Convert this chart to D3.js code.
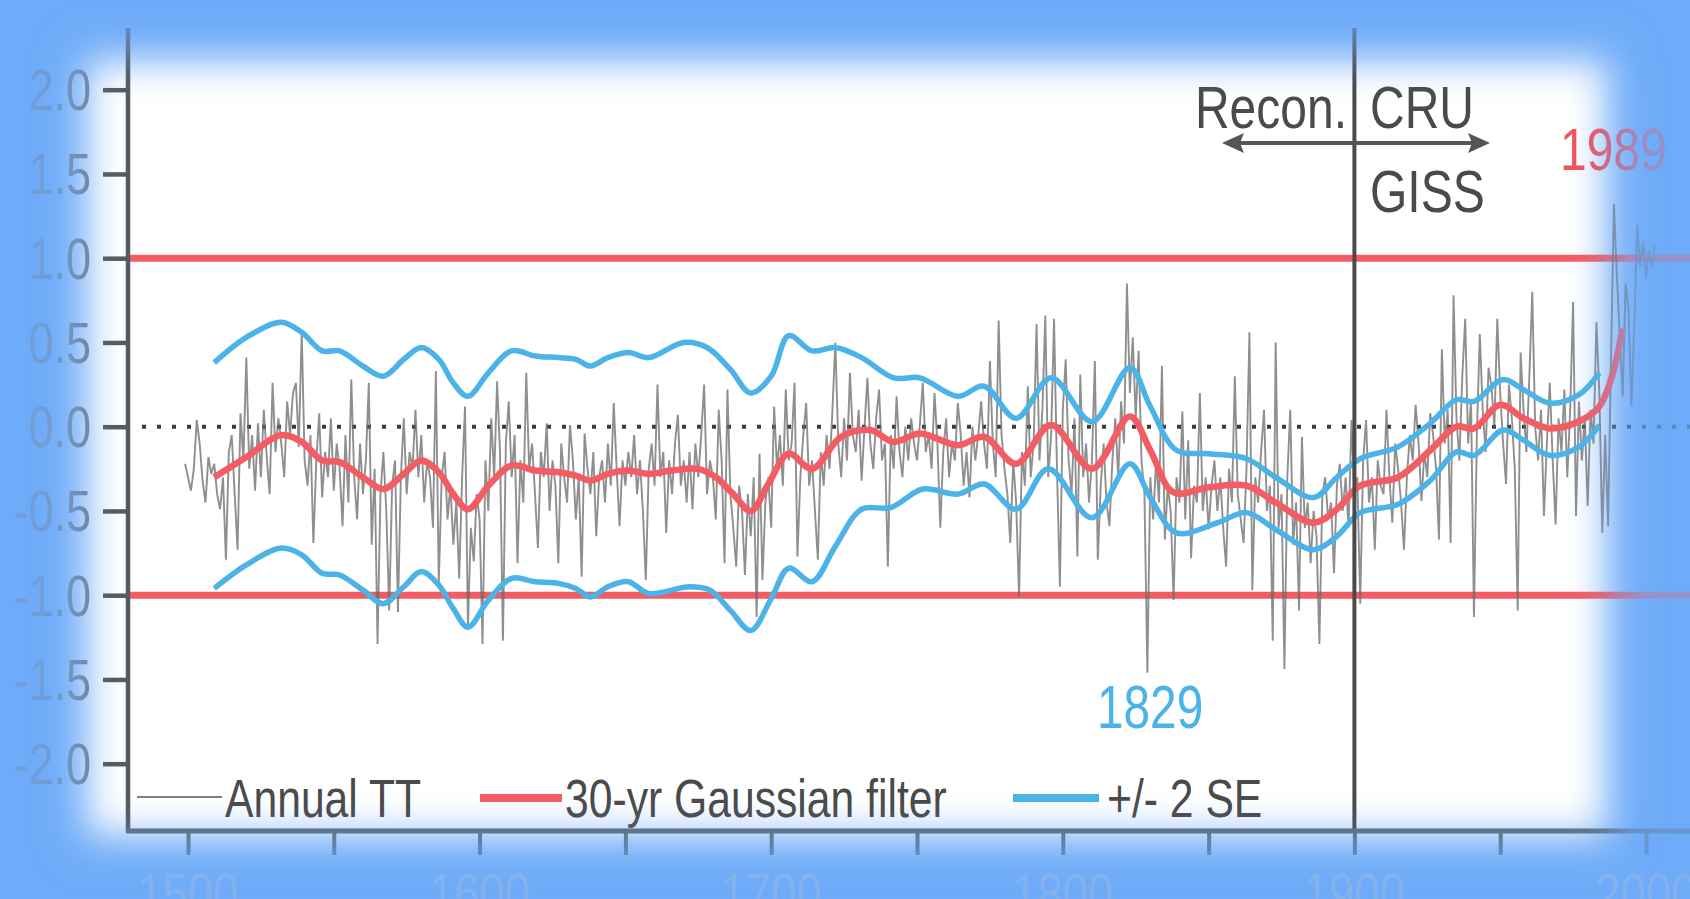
<!DOCTYPE html>
<html><head><meta charset="utf-8">
<script src="https://cdn.jsdelivr.net/npm/d3@7"></script>
<style>html,body{margin:0;padding:0;background:#6eabf8;overflow:hidden}svg{display:block}</style>
</head><body>
<svg id="c" width="1690" height="899"></svg>
<script>
// ---------- data ----------
const annualStart = 1499;
const annualTT = [
-0.22,-0.30,-0.38,-0.25,0.04,-0.10,-0.32,-0.45,-0.18,-0.28,-0.22,
-0.40,-0.49,-0.30,-0.79,-0.15,-0.05,-0.40,-0.73,0.08,-0.20,
0.41,-0.25,-0.05,-0.38,0.02,-0.30,0.10,-0.18,-0.40,0.26,
-0.15,0.05,-0.10,-0.30,0.15,-0.05,0.20,0.26,-0.12,0.57,
-0.20,-0.35,-0.05,-0.69,-0.20,0.08,-0.42,-0.15,-0.30,0.05,
-0.38,-0.10,-0.25,-0.59,-0.05,-0.45,0.28,-0.30,-0.55,-0.10,
-0.40,-0.20,0.26,-0.70,-0.25,-1.29,-0.40,-0.15,-0.50,-1.09,
-0.35,-0.20,-1.10,-0.30,0.05,-0.40,-0.15,-0.25,0.10,-0.30,
-0.05,-0.45,-0.20,-0.30,-0.60,0.33,-0.93,-0.30,-0.15,-0.55,
-0.35,-0.70,-0.45,-0.90,-0.30,0.12,-1.19,-0.60,-0.80,-0.40,
-0.55,-1.29,-0.20,-0.50,0.05,-0.30,0.27,-0.15,-1.27,-0.10,
0.15,-0.30,-0.05,-0.81,-0.20,-0.45,0.32,-0.25,-0.10,-0.40,
-0.72,-0.15,-0.30,0.02,-0.50,-0.20,-0.35,-0.81,-0.10,-0.30,
-0.45,0.01,-0.20,-0.55,-0.30,-0.89,-0.04,-0.25,-0.40,-0.15,
-0.65,-0.30,-0.20,-0.45,-0.10,-0.35,0.14,-0.25,-0.59,-0.20,
-0.35,-0.15,-0.30,-0.05,-0.40,-0.20,-0.50,-0.91,-0.25,-0.10,
-0.35,0.25,-0.30,-0.15,-0.63,-0.20,-0.40,-0.10,0.07,-0.35,
-0.20,-0.45,-0.15,-0.49,-0.10,-0.30,-0.05,0.25,-0.40,-0.20,
-0.30,-0.55,0.10,-0.20,-0.81,0.22,-0.40,-0.60,-0.83,-0.35,
-0.50,-0.88,-0.40,-0.65,-0.30,-1.13,-0.16,-0.91,-0.45,-0.30,
-0.60,0.12,-0.25,-0.05,-0.35,0.22,-0.20,-0.10,0.26,-0.77,
-0.30,-0.05,0.14,-0.35,-0.20,-0.50,-0.79,-0.15,-0.35,-0.05,
-0.25,0.10,0.50,-0.10,-0.30,0.05,-0.20,0.32,-0.05,-0.15,
0.10,-0.32,0.00,0.29,-0.10,-0.25,0.05,0.22,-0.20,-0.10,
-0.83,-0.05,-0.25,0.18,-0.15,-0.30,0.00,-0.20,0.05,-0.10,
-0.20,0.02,0.26,-0.15,-0.05,-0.25,0.20,-0.10,-0.60,-0.15,
0.05,-0.30,-0.10,-0.20,0.14,-0.05,-0.35,-0.15,-0.42,0.00,
-0.20,-0.05,0.15,-0.10,-0.25,0.39,-0.10,-0.30,0.63,-0.05,
-0.25,-0.40,-0.69,-0.20,-0.45,-1.01,-0.15,-0.35,0.24,-0.30,
-0.10,0.61,-0.20,0.10,0.66,-0.30,-0.05,0.64,-0.25,-0.95,
0.10,0.40,-0.20,-0.40,0.05,-0.77,0.31,-0.30,-0.10,-0.45,
-0.20,0.39,-0.79,-0.35,-0.10,-0.45,-0.59,-0.20,0.05,-0.30,
0.15,-0.10,0.85,0.20,0.53,0.05,0.45,-0.20,-0.40,-1.46,
-0.30,-0.55,-0.20,-0.45,0.36,-0.67,-0.35,-0.50,-1.03,-0.30,
-0.45,0.09,-0.55,-0.08,-0.78,-0.35,-0.45,0.20,-0.50,-0.30,
-0.61,-0.35,-0.20,-0.50,-0.30,-0.60,-0.83,-0.25,-0.45,0.30,
-0.40,-0.55,-0.69,-0.25,0.56,-0.97,-0.30,-0.45,-0.15,0.10,
-0.50,-0.35,-1.27,0.50,-0.60,-0.40,-1.44,-0.30,0.10,-0.70,
-0.45,-1.09,-0.06,-0.60,-0.45,-0.81,-0.50,-0.65,-1.29,-0.40,
-0.30,-0.55,-0.45,-0.87,-0.35,-0.22,-0.50,-0.30,-0.60,0.04,
-0.40,-0.30,-1.05,-0.20,0.04,-0.45,-0.30,-0.73,-0.20,-0.35,
-0.40,0.10,-0.30,-0.57,-0.10,-0.25,-0.45,-0.73,-0.30,-0.05,
-0.20,0.13,-0.10,-0.44,-0.15,-0.30,0.08,-0.05,-0.25,-0.67,
0.46,-0.10,0.10,-0.69,0.78,0.05,-0.20,0.30,0.64,-0.10,
0.15,-1.13,-0.05,0.55,0.10,-0.15,0.35,0.24,0.00,0.64,
0.20,-0.10,-0.34,0.25,0.05,-0.25,-1.09,0.44,0.10,-0.15,
0.30,0.80,0.00,-0.20,0.10,-0.53,-0.10,0.26,-0.20,-0.58,
0.05,-0.15,0.22,-0.30,0.10,0.74,-0.53,0.15,-0.20,0.05,
-0.47,0.10,-0.10,0.62,0.20,-0.63,-0.05,-0.59,0.40,1.32,
0.90,0.55,0.18,0.85,0.70,0.12,0.60,1.20,0.95,1.10,
0.88,1.05,0.95,1.08
];

const filterYears = [1509,1520,1532,1539,1546,1552,1560,1567,1574,1580,1586,1591,1596,1603,1611,1619,1627,1633,1638,1644,1651,1658,1666,1675,1681,1687,1693,1699,1706,1714,1724,1734,1742,1751,1764,1773,1784,1796,1810,1823,1830,1838,1850,1863,1873,1886,1894,1902,1915,1926,1935,1941,1950,1958,1967,1978,1984,1988,1992];
const filterVals  = [-0.30,-0.18,-0.05,-0.09,-0.20,-0.21,-0.30,-0.37,-0.28,-0.20,-0.27,-0.40,-0.49,-0.35,-0.23,-0.26,-0.27,-0.29,-0.32,-0.28,-0.26,-0.28,-0.26,-0.25,-0.30,-0.40,-0.50,-0.34,-0.16,-0.25,-0.06,-0.02,-0.09,-0.04,-0.11,-0.06,-0.22,0.01,-0.25,0.06,-0.14,-0.39,-0.36,-0.35,-0.45,-0.57,-0.49,-0.35,-0.30,-0.14,0.00,-0.01,0.13,0.05,-0.01,0.04,0.12,0.28,0.58];

const upperYears = [1509,1520,1532,1539,1546,1552,1560,1567,1574,1580,1586,1591,1596,1603,1611,1619,1627,1633,1638,1644,1651,1658,1670,1678,1686,1693,1700,1706,1714,1722,1731,1742,1751,1764,1773,1784,1796,1810,1823,1830,1839,1850,1863,1873,1886,1894,1902,1915,1926,1935,1941,1951,1958,1967,1977,1984];
const upperVals  = [0.38,0.53,0.62,0.56,0.45,0.45,0.36,0.30,0.40,0.47,0.40,0.26,0.18,0.32,0.45,0.42,0.41,0.40,0.36,0.41,0.44,0.41,0.50,0.47,0.34,0.20,0.30,0.54,0.45,0.47,0.41,0.29,0.29,0.18,0.24,0.05,0.29,0.03,0.35,0.12,-0.14,-0.16,-0.19,-0.30,-0.42,-0.30,-0.19,-0.12,0.02,0.16,0.15,0.28,0.22,0.14,0.19,0.32];

const lowerYears = [1509,1520,1532,1539,1546,1552,1560,1567,1574,1580,1586,1591,1596,1603,1611,1619,1627,1633,1638,1644,1651,1658,1672,1679,1686,1693,1700,1706,1714,1722,1731,1741,1752,1764,1773,1784,1795,1810,1823,1830,1839,1853,1863,1873,1886,1894,1902,1915,1926,1935,1941,1951,1958,1967,1977,1984];
const lowerVals  = [-0.96,-0.82,-0.72,-0.76,-0.87,-0.88,-0.97,-1.05,-0.95,-0.86,-0.94,-1.08,-1.19,-1.03,-0.90,-0.92,-0.93,-0.96,-1.01,-0.95,-0.92,-0.99,-0.95,-0.97,-1.09,-1.21,-1.02,-0.84,-0.92,-0.71,-0.49,-0.48,-0.37,-0.40,-0.34,-0.49,-0.25,-0.54,-0.22,-0.42,-0.63,-0.57,-0.51,-0.61,-0.73,-0.65,-0.51,-0.46,-0.32,-0.15,-0.17,-0.02,-0.08,-0.17,-0.12,0.01];

const yTicks = [2, 1.5, 1, 0.5, 0, -0.5, -1, -1.5, -2];
const yTickLabels = ["2.0","1.5","1.0","0.5","0.0","-0.5","-1.0","-1.5","-2.0"];
const xMinorTicks = [1500,1550,1600,1650,1700,1750,1800,1850,1900,1950,2000];
const xTickLabels = ["1500","1600","1700","1800","1900","2000"];
const legendItems = ["Annual TT","30-yr Gaussian filter","+/- 2 SE"];
const thresholds = [1, -1];

// ---------- layout ----------
const W = 1690, H = 899;
const RED = "#f45c64", BLUE = "#4bb3e7", AX = "#555a60";
const FONT = "'Liberation Sans', Arial, sans-serif";
const x = d3.scaleLinear().domain([1500, 2000]).range([188, 1646]);
const y = d3.scaleLinear().domain([-2, 2]).range([763.7, 89.7]);
const axisX = 128, axisY = 831;

const svg = d3.select("#c");
const defs = svg.append("defs");
const f = defs.append("filter").attr("id","blur").attr("filterUnits","userSpaceOnUse")
  .attr("x",-200).attr("y",-200).attr("width",W+400).attr("height",H+400);
f.append("feGaussianBlur").attr("stdDeviation",22);
const m = defs.append("mask").attr("id","vig").attr("maskUnits","userSpaceOnUse")
  .attr("x",0).attr("y",0).attr("width",W).attr("height",H);
m.append("rect").attr("width",W).attr("height",H).attr("fill","#fff");
m.append("rect").attr("x",78).attr("y",52).attr("width",1537).attr("height",792).attr("fill","#000").attr("filter","url(#blur)");
const clip = defs.append("clipPath").attr("id","plotclip");
clip.append("rect").attr("x",axisX+2).attr("y",0).attr("width",W).attr("height",axisY-2);

// background
svg.append("rect").attr("width",W).attr("height",H).attr("fill","#6eabf8");
svg.append("rect").attr("x",78).attr("y",52).attr("width",1537).attr("height",792)
  .attr("fill","#fff").attr("filter","url(#blur)");

function txt(g, s, px, py, size, anchor, fill, sx) {
  return g.append("text").attr("transform",`translate(${px},${py}) scale(${sx},1)`)
    .attr("text-anchor",anchor).attr("font-family",FONT).attr("font-size",size)
    .attr("fill",fill).text(s);
}

const chart = svg.append("g");

// threshold red lines
chart.selectAll("line.th").data(thresholds).join("line")
  .attr("x1",axisX).attr("x2",W).attr("y1",d=>y(d)).attr("y2",d=>y(d))
  .attr("stroke",RED).attr("stroke-width",7);

// dotted zero line
chart.append("line").attr("x1",142).attr("x2",W).attr("y1",y(0)).attr("y2",y(0))
  .attr("stroke","#3c3c3c").attr("stroke-width",4).attr("stroke-dasharray","4,11");

const plot = chart.append("g").attr("clip-path","url(#plotclip)");
// annual series
const annual = annualTT.map((v,i)=>({yr: annualStart+i, v}));
plot.append("path").datum(annual)
  .attr("d", d3.line().x(d=>x(d.yr)).y(d=>y(d.v)))
  .attr("fill","none").attr("stroke","#6a6a6a").attr("stroke-opacity",0.75).attr("stroke-width",1.9);

const smooth = d3.line().curve(d3.curveCatmullRom.alpha(0.5)).x(d=>x(d[0])).y(d=>y(d[1]));
plot.append("path").datum(d3.zip(upperYears, upperVals)).attr("d", smooth)
  .attr("fill","none").attr("stroke",BLUE).attr("stroke-width",5.5);
plot.append("path").datum(d3.zip(lowerYears, lowerVals)).attr("d", smooth)
  .attr("fill","none").attr("stroke",BLUE).attr("stroke-width",5.5);
plot.append("path").datum(d3.zip(filterYears, filterVals)).attr("d", smooth)
  .attr("fill","none").attr("stroke",RED).attr("stroke-width",6.5);

// 1900 divider
chart.append("line").attr("x1",x(1900)).attr("x2",x(1900)).attr("y1",28).attr("y2",axisY)
  .attr("stroke","#4a4a4a").attr("stroke-width",4);

// y axis
const yAxis = d3.axisLeft(y).tickValues(yTicks).tickSize(25).tickFormat(()=>"");
const ya = chart.append("g").attr("transform",`translate(${axisX},0)`).call(yAxis);
ya.select(".domain").remove();
ya.selectAll(".tick line").attr("stroke",AX).attr("stroke-width",4.5);
chart.append("line").attr("x1",axisX).attr("x2",axisX).attr("y1",28).attr("y2",axisY+2)
  .attr("stroke",AX).attr("stroke-width",4.5);
yTicks.forEach((t,i)=> txt(chart, yTickLabels[i], 91, y(t)+20.5, 57, "end", "#74808e", 0.79));

// x axis
const xAxis = d3.axisBottom(x).tickValues(xMinorTicks).tickSize(24).tickFormat(()=> "");
const xa = chart.append("g").attr("transform",`translate(0,${axisY})`).call(xAxis);
xa.select(".domain").remove();
xa.selectAll(".tick line").attr("stroke","#5d6b7d").attr("stroke-width",4);
chart.append("line").attr("x1",axisX-2).attr("x2",W).attr("y1",axisY).attr("y2",axisY)
  .attr("stroke","#5f6670").attr("stroke-width",5);
xTickLabels.forEach(s=> txt(chart, s, x(+s), 914, 57, "middle", "#b4c2d8", 0.8));

// legend
chart.append("line").attr("x1",137).attr("x2",222).attr("y1",797).attr("y2",797).attr("stroke","#555").attr("stroke-width",1.5);
txt(chart, legendItems[0], 225, 817, 54, "start", "#4a4a4a", 0.79);
chart.append("line").attr("x1",480).attr("x2",562).attr("y1",798).attr("y2",798).attr("stroke",RED).attr("stroke-width",8);
txt(chart, legendItems[1], 565, 817, 54, "start", "#4a4a4a", 0.79);
chart.append("line").attr("x1",1013).attr("x2",1099).attr("y1",798).attr("y2",798).attr("stroke",BLUE).attr("stroke-width",8);
txt(chart, legendItems[2], 1107, 817, 54, "start", "#4a4a4a", 0.79);

// annotations
txt(chart, "Recon.", 1347, 128, 60, "end", "#4a4a4a", 0.8);
txt(chart, "CRU", 1370, 128, 60, "start", "#4a4a4a", 0.8);
txt(chart, "GISS", 1370, 212, 60, "start", "#4a4a4a", 0.8);
chart.append("line").attr("x1",1236).attr("x2",1476).attr("y1",143).attr("y2",143).attr("stroke","#555").attr("stroke-width",4);
chart.append("path").attr("d","M1222,143 L1244,133 L1240,143 L1244,153 Z").attr("fill","#555");
chart.append("path").attr("d","M1490,143 L1468,133 L1472,143 L1468,153 Z").attr("fill","#555");
txt(chart, "1989", 1560, 170, 60, "start", "#f0545c", 0.8);
txt(chart, "1829", 1097, 728, 62, "start", BLUE, 0.77);

// vignette overlay fading the chart toward the blue frame
svg.append("rect").attr("width",W).attr("height",H).attr("fill","#6eabf8")
  .attr("opacity",0.7).attr("mask","url(#vig)");
</script>
</body></html>
